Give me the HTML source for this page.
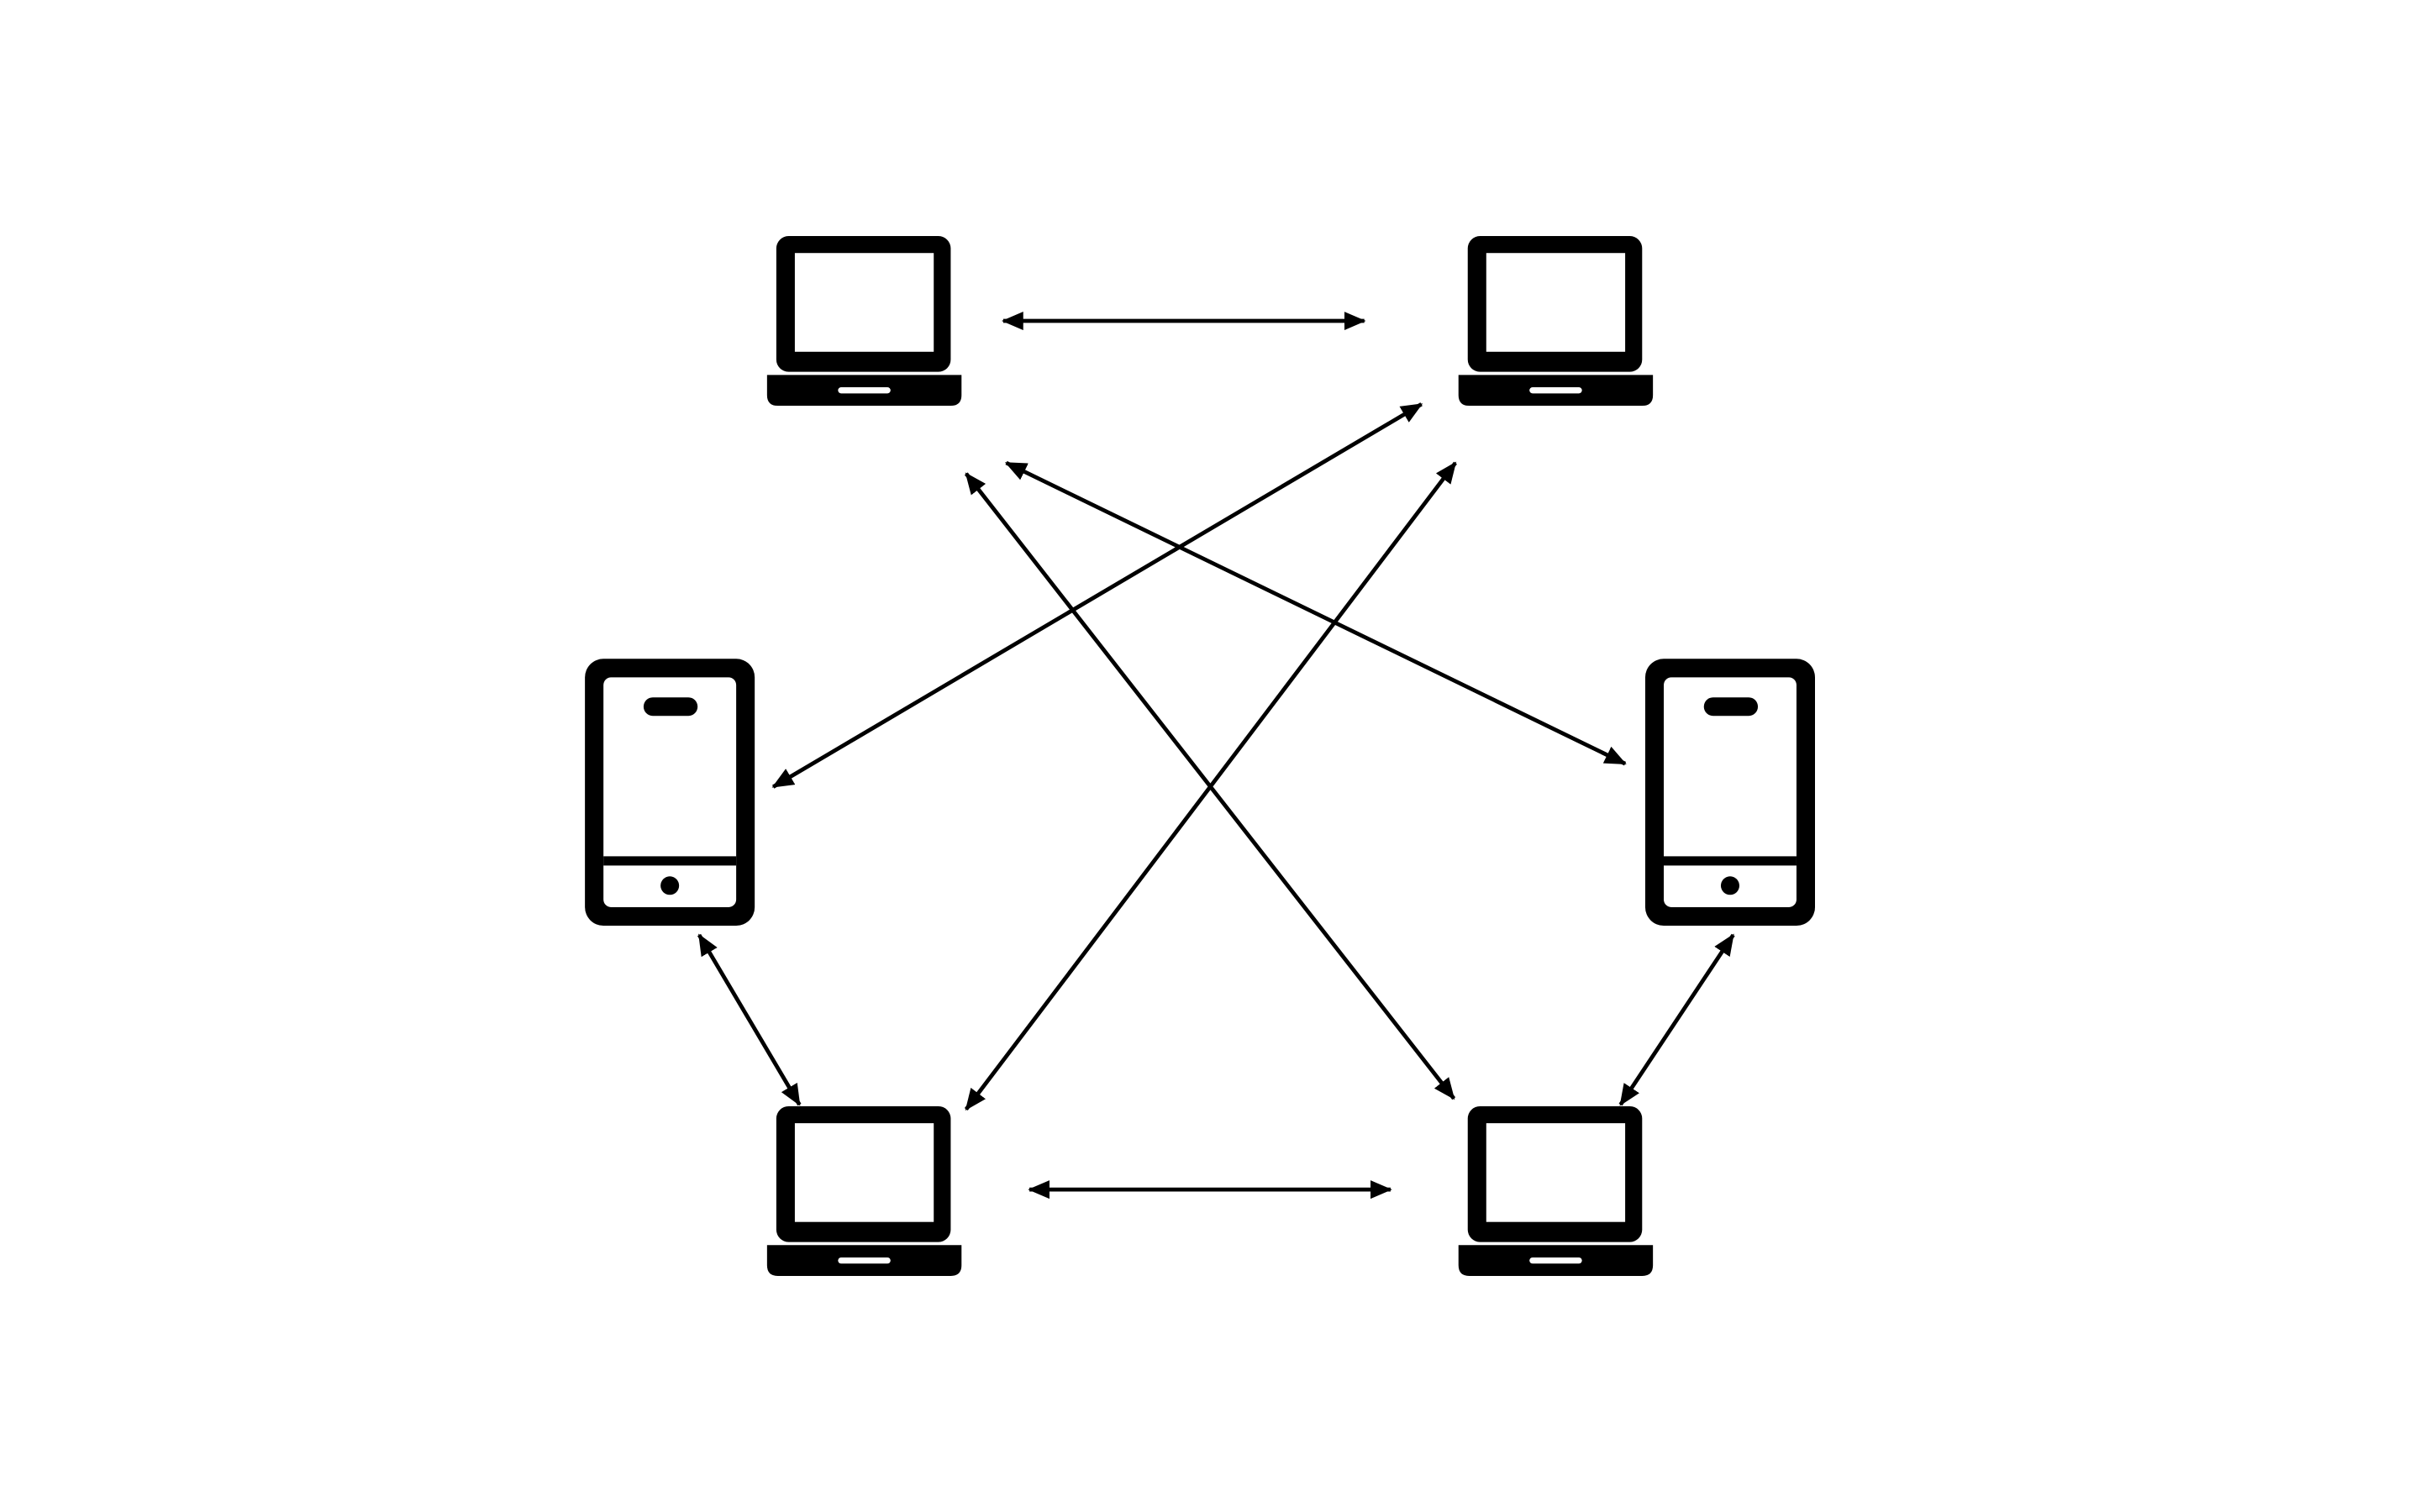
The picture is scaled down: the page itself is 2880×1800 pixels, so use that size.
<!DOCTYPE html>
<html><head><meta charset="utf-8"><style>html,body{margin:0;padding:0;background:#fff;}svg{display:block;}</style></head>
<body>
<svg width="2880" height="1800" viewBox="0 0 1568 980" xmlns="http://www.w3.org/2000/svg">
<defs>
<marker id="a" viewBox="0 0 14 12" refX="13" refY="6" markerWidth="14" markerHeight="12" markerUnits="userSpaceOnUse" orient="auto-start-reverse">
<path d="M0,0 L14,6 L0,12 Z" fill="#000"/>
</marker>
<g id="lap">
<rect x="503" y="153" width="113" height="88" rx="8" fill="#000"/>
<rect x="515" y="164" width="90" height="64" fill="#fff"/>
<path d="M497,243 H623 V256 Q623,263 616,263 H504 Q497,263 497,256 Z" fill="#000"/>
<rect x="543" y="251" width="34" height="4" rx="2" fill="#fff"/>
</g>
<g id="ph">
<rect x="379" y="427" width="110" height="173" rx="12" fill="#000"/>
<rect x="391" y="439" width="86" height="149" rx="5" fill="#fff"/>
<rect x="391" y="555" width="86" height="6" fill="#000"/>
<rect x="417" y="452" width="35" height="12" rx="6" fill="#000"/>
<circle cx="434" cy="574" r="6" fill="#000"/>
</g>
</defs>
<rect width="1568" height="980" fill="#fff"/>
<use href="#lap"/>
<use href="#lap" transform="translate(448,0)"/>
<use href="#lap" transform="translate(0,564)"/>
<use href="#lap" transform="translate(448,564)"/>
<use href="#ph"/>
<use href="#ph" transform="translate(687,0)"/>
<g stroke="#000" stroke-width="2.6" fill="none" marker-start="url(#a)" marker-end="url(#a)">
<line x1="650" y1="208" x2="884" y2="208"/>
<line x1="667" y1="771" x2="901" y2="771"/>
<line x1="921" y1="262" x2="501" y2="510"/>
<line x1="943" y1="300" x2="626" y2="719"/>
<line x1="652" y1="300" x2="1053" y2="495"/>
<line x1="626" y1="307" x2="942" y2="712"/>
<line x1="453" y1="606" x2="518" y2="716"/>
<line x1="1123" y1="606" x2="1050" y2="716"/>
</g>
</svg>
</body></html>
